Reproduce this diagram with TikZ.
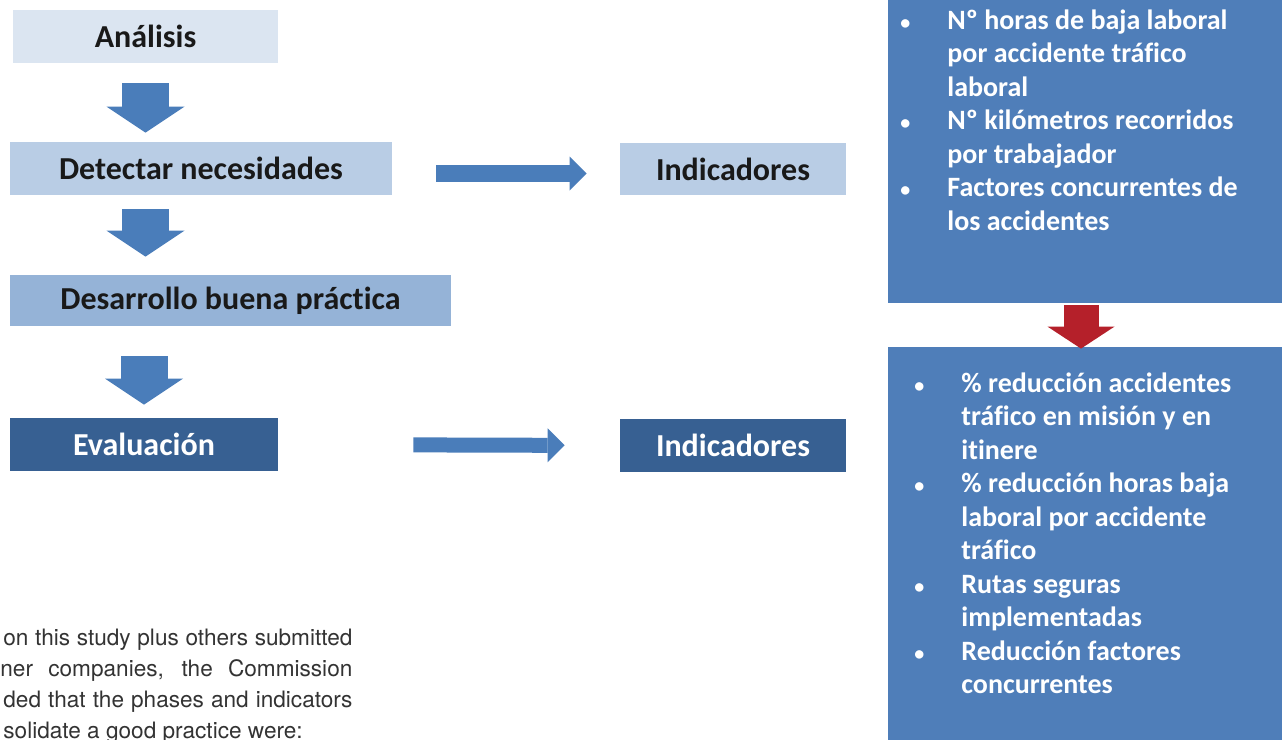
\documentclass[tikz,border=0pt]{standalone}
\usepackage{fontspec}
\setmainfont{Carlito}[Ligatures=NoCommon]
\newfontfamily\bodyfont{TeX Gyre Heros}
\usetikzlibrary{arrows.meta}

\definecolor{paleblue}{HTML}{DBE5F1}
\definecolor{lightblue}{HTML}{B9CDE5}
\definecolor{midblue}{HTML}{95B3D7}
\definecolor{darkblue}{HTML}{376092}
\definecolor{boxblue}{HTML}{4F7EB9}
\definecolor{arrowblue}{HTML}{4A7DBA}
\definecolor{arrowred}{HTML}{B5202A}
\definecolor{bodygray}{HTML}{333333}

\newcommand{\itemdot}{\makebox[23.5pt][l]{\fontsize{10}{10}\selectfont\textbullet}}
\newcommand{\itemgap}{\hspace*{23.5pt}}

\begin{document}
\begin{tikzpicture}[x=0.5pt,y=-0.5pt]
  \def\bw{23.5pt}

\tikzstyle{phase}=[rectangle,inner sep=0pt,minimum height=26.5pt,text=black!90,font=\fontsize{16}{18}\selectfont\bfseries]
\tikzstyle{darkphase}=[phase,fill=darkblue,text=white]
\tikzstyle{listbox}=[rectangle,inner sep=0pt,fill=boxblue,minimum width=197pt]
\tikzstyle{listtext}=[anchor=north west,inner sep=0pt,align=left,text=white,font=\fontsize{14}{16.75}\selectfont\bfseries]
\tikzstyle{downarrow}=[draw=arrowblue,line width=\bw,-{Triangle[width=39pt,length=13pt,line width=0pt]}]
\tikzstyle{rightarrow}=[draw=arrowblue,line width=8.5pt,-{Triangle[width=17pt,length=8.5pt,line width=0pt]}]
\tikzstyle{bodyline}=[anchor=base west,inner sep=0pt,text=bodygray,font=\bodyfont\fontsize{11.3}{13}\selectfont]

\clip (0,0) rectangle (1282,740);
\fill[white] (0,0) rectangle (1282,740);

% fases
\node[phase,fill=paleblue,minimum width=132.5pt] (analisis) at (145.5,36.5) {Análisis};
\node[phase,fill=lightblue,minimum width=191pt] (detectar) at (201,168.5) {Detectar necesidades};
\node[phase,fill=midblue,minimum width=220.5pt,minimum height=25.5pt] (desarrollo) at (230.5,300.5) {Desarrollo buena práctica};
\node[darkphase,minimum width=134pt] (evaluacion) at (144,444.5) {Evaluación};

\draw[downarrow,shorten <=10pt,shorten >=4.5pt] (analisis.south) -- (analisis.south |- detectar.north);
\draw[downarrow,shorten <=7pt,shorten >=9pt] (detectar.south -| analisis) -- (desarrollo.north -| analisis);
\draw[downarrow,shorten <=15pt,shorten >=6.5pt] (desarrollo.south -| evaluacion) -- (evaluacion.north);

% indicadores
\node[phase,fill=lightblue,minimum width=113pt,minimum height=26pt] (ind1) at (733,169) {Indicadores};
\node[darkphase,minimum width=113pt] (ind2) at (733,445.5) {Indicadores};

\draw[rightarrow,shorten <=22pt,shorten >=16.5pt] ([yshift=-2.5pt]detectar.east) -- ([yshift=-2.5pt]detectar.east -| ind1.west);
\draw[rightarrow,line width=7.5pt,shorten <=67.5pt,shorten >=27.5pt] (evaluacion.east) -- (ind2.west);

% cajas de la derecha
\node[listbox,minimum height=154pt] (indbox1) at (1085,149) {};
\node[listbox,minimum height=199pt] (indbox2) at (1085,546) {};

\node[listtext] (list1) at (900,9) {%
\itemdot Nº horas de baja laboral\\
\itemgap por accidente tráfico\\
\itemgap laboral\\
\itemdot Nº kilómetros recorridos\\
\itemgap por trabajador\\
\itemdot Factores concurrentes de\\
\itemgap los accidentes};

\node[listtext] (list2) at (914,372) {%
\itemdot\% reducción accidentes\\
\itemgap tráfico en misión y en\\
\itemgap itinere\\
\itemdot\% reducción horas baja\\
\itemgap laboral por accidente\\
\itemgap tráfico\\
\itemdot Rutas seguras\\
\itemgap implementadas\\
\itemdot Reducción factores\\
\itemgap concurrentes};

\draw[draw=arrowred,line width=17.5pt,-{Triangle[width=33.5pt,length=11pt,line width=0pt]},shorten <=1pt,shorten >=-1pt] ([xshift=-2pt]indbox1.south) -- ([xshift=-2pt]indbox2.north);

% texto
\node[bodyline] (line1) at (3,645) {\makebox[174.5pt][s]{on this study plus others submitted}};
\node[bodyline] (line2) at (0,676) {\makebox[176pt][s]{ner companies, the Commission}};
\node[bodyline] (line3) at (3,707) {\makebox[174.5pt][s]{ded that the phases and indicators}};
\node[bodyline] (line4) at (3,738) {solidate a good practice were:};
\end{tikzpicture}
\end{document}
